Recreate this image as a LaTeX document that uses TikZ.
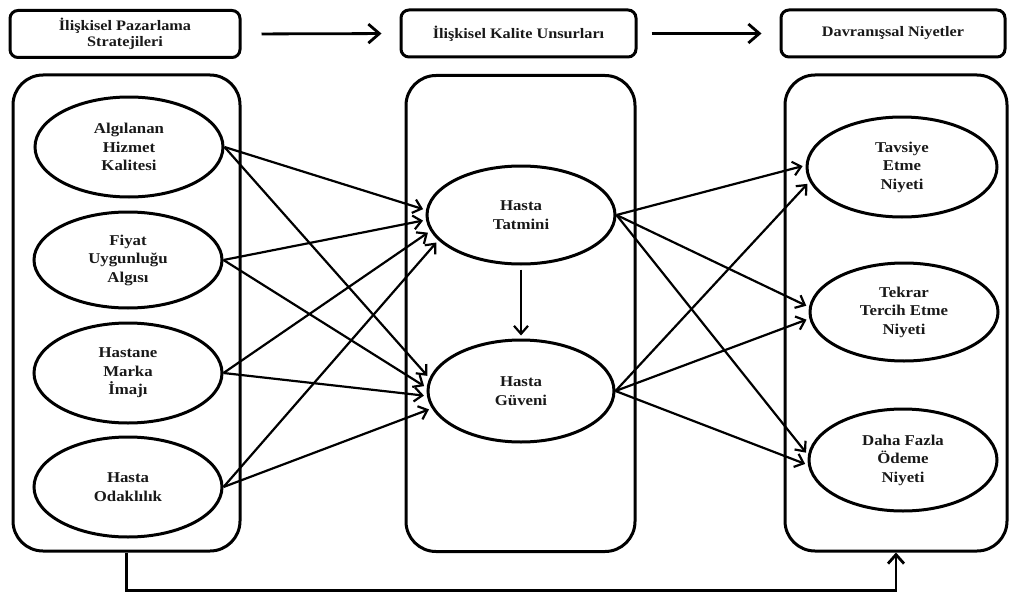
\documentclass[tikz,border=0pt]{standalone}
\usepackage{fontspec}
\newfontfamily\diafont{Liberation Serif}[FakeStretch=1.12]
\usetikzlibrary{shapes.geometric,arrows.meta}
\begin{document}
\begin{tikzpicture}[x=1pt,y=-1pt,
  font=\diafont\bfseries\fontsize{15}{18.5}\selectfont,
  header/.style={draw, line width=3pt, rounded corners=8pt, inner sep=0pt,
    minimum height=47pt, align=center, text=black!90,
    font=\diafont\bfseries\fontsize{14.5}{15.5}\selectfont},
  panel/.style={draw, line width=3pt, rounded corners=30pt, inner sep=0pt,
    minimum height=476pt},
  construct/.style={draw, ellipse, line width=3pt, inner sep=0pt,
    minimum width=188pt, minimum height=100pt, align=center, text=black!90},
  link/.style={line width=2.2pt, shorten >=3pt,
    -{Straight Barb[length=8pt,width=14pt]}},
  flow/.style={line width=2.8pt, -{Straight Barb[length=11pt,width=19pt]}}
]
\useasboundingbox (0,0) rectangle (1012,594);

% column headings
\node[header, minimum width=230pt] (h1) at (125,34) {İlişkisel Pazarlama\\Stratejileri};
\node[header, minimum width=235pt] (h2) at (518.5,33.5) {İlişkisel Kalite Unsurları};
\node[header, minimum width=224pt] (h3) at (893,33.5) {Davranışsal Niyetler};
\draw[flow, shorten <=20pt, shorten >=18pt] (h1.east) -- (h2.west);
\draw[flow, shorten <=14pt, shorten >=18pt] (h2.east) -- (h3.west);

% column panels
\node[panel, minimum width=227pt] (L) at (126.5,313) {};
\node[panel, minimum width=229pt] (M) at (520.5,313.5) {};
\node[panel, minimum width=222pt] (R) at (896,313) {};

% constructs
\node[construct] (l1) at (129,147) {Algılanan\\Hizmet\\Kalitesi};
\node[construct, minimum height=96pt] (l2) at (128,260) {Fiyat\\Uygunluğu\\Algısı};
\node[construct] (l3) at (128,373) {Hastane\\Marka\\İmajı};
\node[construct] (l4) at (128,487) {Hasta\\Odaklılık};

\node[construct, minimum height=98pt] (t) at (521,215) {Hasta\\Tatmini};
\node[construct, minimum width=186pt, minimum height=102pt] (g) at (521,391) {Hasta\\Güveni};

\node[construct, minimum width=190pt] (r1) at (902,167) {Tavsiye\\Etme\\Niyeti};
\node[construct, minimum height=98pt] (r2) at (904,312) {Tekrar\\Tercih Etme\\Niyeti};
\node[construct, minimum height=102pt] (r3) at (903,460) {Daha Fazla\\Ödeme\\Niyeti};

% strategies -> relationship quality
\draw[link] (l1.east) -- (t.177);
\draw[link] (l2.east) -- (t.183);
\draw[link] (l3.east) -- (t.190);
\draw[link] (l4.east) -- (t.197);
\draw[link] (l1.east) -- (g.172);
\draw[link] (l2.east) -- (g.178);
\draw[link] (l3.east) -- (g.183);
\draw[link] (l4.east) -- (g.191);

% satisfaction -> trust
\draw[link, shorten <=4pt] (t.south) -- (g.north);

% relationship quality -> intentions
\draw[link] (t.east) -- (r1.179);
\draw[link] (g.east) -- (r1.189);
\draw[link] (t.east) -- (r2.177);
\draw[link] (g.east) -- (r2.184);
\draw[link] (t.east) -- (r3.177);
\draw[link] (g.east) -- (r3.183);

% direct path from strategies to intentions
\coordinate (base) at (0,590.5);
\draw[flow, -{Straight Barb[length=9pt,width=16pt]}]
  (L.south) -- (L.south |- base) -| (R.south);
\end{tikzpicture}
\end{document}
